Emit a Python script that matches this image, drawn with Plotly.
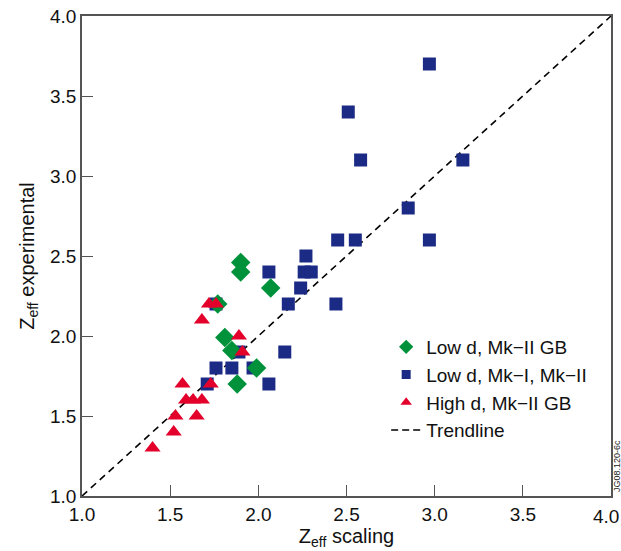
import plotly.graph_objects as go

# Data
green_x = [1.90, 1.90, 2.07, 1.81, 1.85, 1.99, 1.88, 1.77]
green_y = [2.46, 2.40, 2.30, 1.99, 1.91, 1.80, 1.70, 2.20]

blue_x = [2.97, 2.51, 2.58, 3.16, 2.85, 2.97, 2.45, 2.55, 2.27, 2.06, 2.26, 2.30,
          2.24, 2.17, 2.44, 1.76, 2.15, 1.89, 1.76, 1.85, 1.97, 2.06, 1.71]
blue_y = [3.70, 3.40, 3.10, 3.10, 2.80, 2.60, 2.60, 2.60, 2.50, 2.40, 2.40, 2.40,
          2.30, 2.20, 2.20, 2.20, 1.90, 1.90, 1.80, 1.80, 1.80, 1.70, 1.70]

red_x = [1.72, 1.76, 1.68, 1.89, 1.91, 1.73, 1.57, 1.59, 1.63, 1.68, 1.53, 1.65, 1.52, 1.40]
red_y = [2.20, 2.20, 2.10, 2.00, 1.90, 1.70, 1.70, 1.60, 1.60, 1.60, 1.50, 1.50, 1.40, 1.30]

trend_x = [1.0, 4.0]
trend_y = [1.0, 4.0]

tick_vals = [1.0, 1.5, 2.0, 2.5, 3.0, 3.5, 4.0]
tick_text = ["1.0", "1.5", "2.0", "2.5", "3.0", "3.5", "4.0"]

names = ["Low d, Mk\u2212II GB", "Low d, Mk\u2212I, Mk\u2212II", "High d, Mk\u2212II GB", "Trendline"]

BLUE = "#1b2a84"
GREEN = "#00923b"
RED = "#e3002b"
FONT = "Liberation Sans, Arial, sans-serif"
DASH = "7px,5px"

fig = go.Figure()
# data traces
fig.add_trace(go.Scatter(x=trend_x, y=trend_y, mode="lines", showlegend=False,
                         line=dict(color="black", width=1.6, dash=DASH)))
fig.add_trace(go.Scatter(x=blue_x, y=blue_y, mode="markers", showlegend=False,
                         marker=dict(symbol="square", size=13, color=BLUE)))
fig.add_trace(go.Scatter(x=green_x, y=green_y, mode="markers", showlegend=False,
                         marker=dict(symbol="diamond", size=15, color=GREEN)))
fig.add_trace(go.Scatter(x=red_x, y=red_y, mode="markers", showlegend=False,
                         marker=dict(symbol="triangle-up", size=14, color=RED)))

# legend entries (smaller symbols like the reference)
fig.add_trace(go.Scatter(x=[None], y=[None], mode="markers", name=names[0],
                         marker=dict(symbol="diamond", size=11, color=GREEN)))
fig.add_trace(go.Scatter(x=[None], y=[None], mode="markers", name=names[1],
                         marker=dict(symbol="square", size=9, color=BLUE)))
fig.add_trace(go.Scatter(x=[None], y=[None], mode="markers", name=names[2],
                         marker=dict(symbol="triangle-up", size=10, color=RED)))
fig.add_trace(go.Scatter(x=[None], y=[None], mode="lines", name=names[3],
                         line=dict(color="black", width=1.6, dash="7px,4px")))

axis_common = dict(range=[1, 4], ticks="inside",
                   ticklen=11, tickwidth=1.2, tickcolor="#555", showline=True, linecolor="#555",
                   linewidth=1.5, mirror=True, showgrid=False, zeroline=False, automargin=False,
                   ticklabeloverflow="allow",
                   tickfont=dict(size=19, color="#111", family=FONT))

# last x tick label is drawn as an annotation so it stays inside the page
x_ticktext = tick_text[:-1] + [""]

fig.update_xaxes(**axis_common, tickvals=tick_vals, ticktext=x_ticktext,
                 title=dict(text="Z<sub>eff</sub> scaling", font=dict(size=20, color="#111", family=FONT),
                            standoff=4))
fig.update_yaxes(**axis_common, tickvals=tick_vals, ticktext=tick_text,
                 title=dict(text="Z<sub>eff</sub> experimental", font=dict(size=20, color="#111", family=FONT),
                            standoff=10))

fig.update_layout(
    width=621, height=551,
    margin=dict(l=82, r=10, t=16, b=55),
    paper_bgcolor="white", plot_bgcolor="white",
    font=dict(family=FONT),
    legend=dict(x=0.575, y=0.35, xanchor="left", yanchor="top", bgcolor="rgba(0,0,0,0)",
                font=dict(size=19, color="#111", family=FONT), tracegroupgap=0,
                itemsizing="trace"),
    annotations=[
        dict(text="JG08.120-6c", x=1.0, y=0.0, xref="paper", yref="paper",
             xanchor="left", yanchor="bottom", xshift=-1, yshift=2, textangle=-90,
             showarrow=False, font=dict(size=9, color="#222", family=FONT)),
        dict(text=tick_text[-1], x=tick_vals[-1], y=0.0, xref="x", yref="paper",
             xanchor="right", yanchor="top", xshift=10, yshift=-8,
             showarrow=False, font=dict(size=19, color="#111", family=FONT)),
    ],
)

fig.write_html("out.html")
